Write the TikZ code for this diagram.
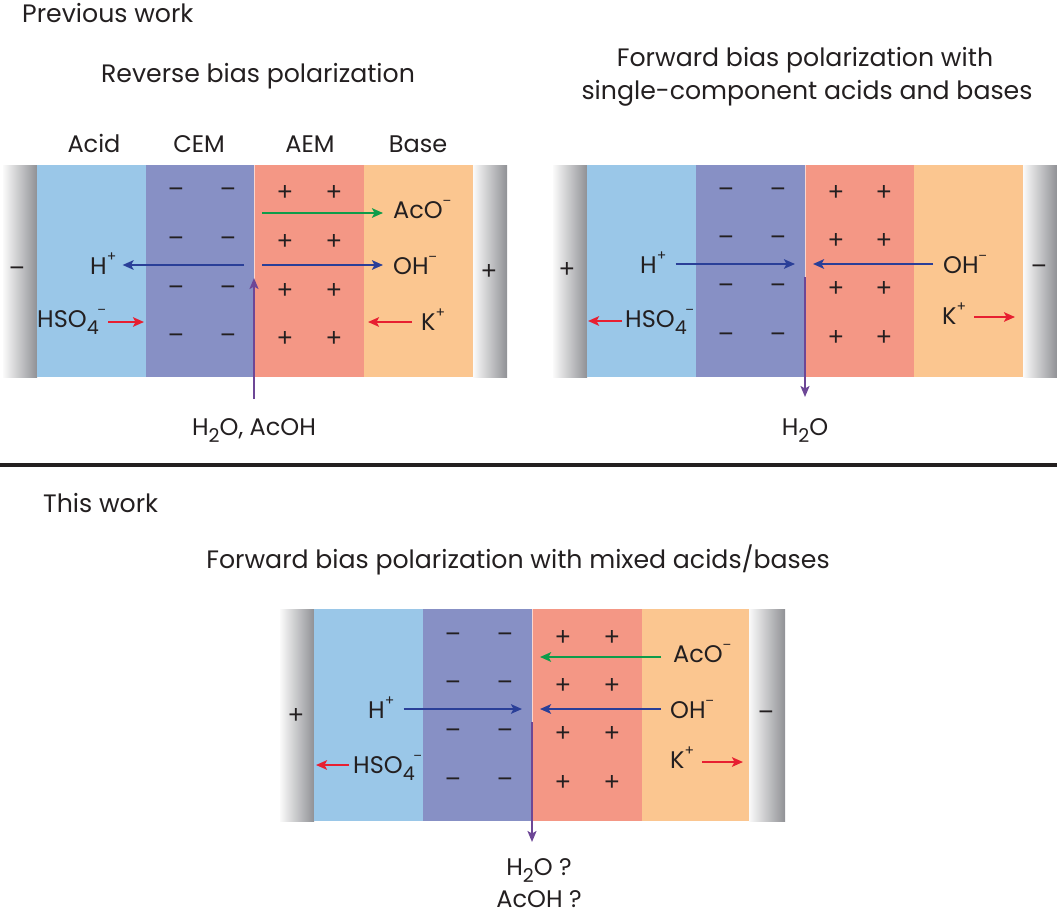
\documentclass[tikz,border=0pt]{standalone}
\usepackage{fontspec}
\setmainfont{Poppins}
\newfontfamily\symfont{Liberation Sans}
\usetikzlibrary{arrows.meta}
\definecolor{acidc}{HTML}{9AC7E8}
\definecolor{cemc}{HTML}{8790C5}
\definecolor{aemc}{HTML}{F49785}
\definecolor{basec}{HTML}{FBC690}
\definecolor{elecd}{HTML}{909195}
\definecolor{elecm}{HTML}{D2D3D5}
\definecolor{elecl}{HTML}{FAFAFA}
\definecolor{arblue}{HTML}{2A3F98}
\definecolor{argreen}{HTML}{0E9C4A}
\definecolor{arred}{HTML}{E71F31}
\definecolor{arpurple}{HTML}{6D4796}
\definecolor{txt}{HTML}{231F20}
\newcommand{\mns}{{\symfont −}}
\newcommand{\sbx}[1]{\raisebox{-7pt}{\fontsize{19}{19}\selectfont #1}}
\newcommand{\spx}[1]{\raisebox{12.5pt}{\fontsize{14}{14}\selectfont #1}}
\begin{document}
\begin{tikzpicture}[x=1pt,y=-1pt,
  lbl/.style={font=\fontsize{24}{28}\selectfont, text=txt, inner sep=0pt},
  ttl/.style={font=\fontsize{25.2}{33}\selectfont, text=txt, inner sep=0pt},
  sgn/.style={font=\symfont\fontsize{26}{28}\selectfont, text=txt, inner sep=0pt},
  elec/.style={left color=elecl, middle color=elecm, right color=elecd},
  seam/.style={white, line width=0.8pt, opacity=0.6},
  arr/.style={line width=2.2pt, -{Stealth[length=11pt,width=9.5pt,inset=2.5pt]}},
  parr/.style={line width=2pt, arpurple, -{Stealth[length=11pt,width=9pt,inset=2.5pt]}},
]
\useasboundingbox (0,0) rectangle (1057,915);

% ---------- headings ----------
\node[ttl, anchor=base west] (prev) at (22,23) {Previous work};
\node[ttl, anchor=base] (t1) at (258,83) {Reverse bias polarization};
\node[ttl, anchor=base] (t2a) at (805,67) {Forward bias polarization with};
\node[ttl, anchor=base] (t2b) at (807,100) {single-component acids and bases};
\draw[txt, line width=3.2pt] (0,465) -- (1057,465);
\node[ttl, anchor=base west] (this) at (43,512) {This work};
\node[ttl, anchor=base] (t3) at (518,568) {Forward bias polarization with mixed acids/bases};

% ---------- panel A: reverse bias ----------
\fill[elec] (3,165) rectangle (37,377);
\fill[acidc] (37,165) rectangle (146,377);
\fill[cemc] (146,165) rectangle (254,377);
\fill[aemc] (254,165) rectangle (364,377);
\fill[basec] (364,165) rectangle (473,377);
\fill[elec] (473,165) rectangle (507,377);
\draw[seam] (254,165) -- (254,377);
\node[lbl, anchor=base] (a-acid) at (94,153) {Acid};
\node[lbl, anchor=base] (a-cem) at (199,153) {CEM};
\node[lbl, anchor=base] (a-aem) at (310,153) {AEM};
\node[lbl, anchor=base] (a-base) at (418,153) {Base};
\foreach \y [count=\i] in {193,242,291,339}{
  \node[sgn] (a-m\i l) at (176,\y) {−};
  \node[sgn] (a-m\i r) at (228,\y) {−};
  \node[sgn] (a-p\i l) at (285,\y) {+};
  \node[sgn] (a-p\i r) at (334,\y) {+};
}
\node[sgn] (a-eneg) at (17,272) {−};
\node[sgn] (a-epos) at (489,272) {+};
\node[lbl, anchor=base west] (a-aco) at (393,218) {AcO\spx{\mns}};
\node[lbl, anchor=base west] (a-h) at (90,274) {H\spx{+}};
\node[lbl, anchor=base west] (a-oh) at (393,274) {OH\spx{\mns}};
\node[lbl, anchor=base west] (a-hso) at (37,327) {HSO\sbx{4}\kern-1pt\spx{\mns}};
\node[lbl, anchor=base west] (a-k) at (421,330) {K\spx{+}};
\node[lbl, anchor=base] (a-water) at (254,435) {H\sbx{2}O, AcOH};
\coordinate (a-c1) at (262,213);
\coordinate (a-c2) at (244,265);
\coordinate (a-c3) at (262,265);
\coordinate (a-c4) at (254,278);
\coordinate (a-c5) at (144,322);
\coordinate (a-c6) at (368,322);
\coordinate (a-c7) at (254,399);
\draw[arr, argreen] (a-c1) -- ([xshift=-10pt]a-aco.west |- a-c1);
\draw[arr, arblue] (a-c2) -- ([xshift=6pt]a-h.east |- a-c2);
\draw[arr, arblue] (a-c3) -- ([xshift=-10pt]a-oh.west |- a-c3);
\draw[parr] (a-c7) -- (a-c4);
\draw[arr, arred] ([xshift=2pt]a-hso.east |- a-c5) -- (a-c5);
\draw[arr, arred] ([xshift=-9pt]a-k.west |- a-c6) -- (a-c6);

% ---------- panel B: forward bias, single ----------
\fill[elec] (553,165) rectangle (587,377);
\fill[acidc] (587,165) rectangle (696,377);
\fill[cemc] (696,165) rectangle (805,377);
\fill[aemc] (805,165) rectangle (914,377);
\fill[basec] (914,165) rectangle (1023,377);
\fill[elec] (1023,165) rectangle (1057,377);
\draw[seam] (805,165) -- (805,377);
\foreach \y [count=\i] in {193,241,289,338}{
  \node[sgn] (b-m\i l) at (726,\y) {−};
  \node[sgn] (b-m\i r) at (778,\y) {−};
  \node[sgn] (b-p\i l) at (836,\y) {+};
  \node[sgn] (b-p\i r) at (884,\y) {+};
}
\node[sgn] (b-epos) at (567,270) {+};
\node[sgn] (b-eneg) at (1039,270) {−};
\node[lbl, anchor=base west] (b-h) at (640,273) {H\spx{+}};
\node[lbl, anchor=base west] (b-oh) at (943,273) {OH\spx{\mns}};
\node[lbl, anchor=base west] (b-hso) at (625,327) {HSO\sbx{4}\kern-1pt\spx{\mns}};
\node[lbl, anchor=base west] (b-k) at (942,324) {K\spx{+}};
\node[lbl, anchor=base] (b-water) at (805,435) {H\sbx{2}O};
\coordinate (b-c2) at (795,264);
\coordinate (b-c3) at (813,264);
\coordinate (b-c4) at (805,277);
\coordinate (b-c5) at (588,321);
\coordinate (b-c6) at (1015,317);
\coordinate (b-c7) at (805,397);
\draw[arr, arblue] ([xshift=9pt]b-h.east |- b-c2) -- (b-c2);
\draw[arr, arblue] ([xshift=-10pt]b-oh.west |- b-c3) -- (b-c3);
\draw[parr] (b-c4) -- (b-c7);
\draw[arr, arred] ([xshift=-3pt]b-hso.west |- b-c5) -- (b-c5);
\draw[arr, arred] ([xshift=8pt]b-k.east |- b-c6) -- (b-c6);

% ---------- panel C: forward bias, mixed ----------
\fill[elec] (280,609) rectangle (314,821);
\fill[acidc] (314,609) rectangle (423,821);
\fill[cemc] (423,609) rectangle (532,821);
\fill[aemc] (532,609) rectangle (642,821);
\fill[basec] (642,609) rectangle (749,821);
\fill[elec] (749,609) rectangle (785,821);
\draw[seam] (532,609) -- (532,821);
\foreach \y [count=\i] in {638,686,734,783}{
  \node[sgn] (c-m\i l) at (453,\y) {−};
  \node[sgn] (c-m\i r) at (505,\y) {−};
  \node[sgn] (c-p\i l) at (563,\y) {+};
  \node[sgn] (c-p\i r) at (612,\y) {+};
}
\node[sgn] (c-epos) at (296,716) {+};
\node[sgn] (c-eneg) at (766,716) {−};
\node[lbl, anchor=base west] (c-aco) at (673,662) {AcO\spx{\mns}};
\node[lbl, anchor=base west] (c-h) at (368,718) {H\spx{+}};
\node[lbl, anchor=base west] (c-oh) at (670,718) {OH\spx{\mns}};
\node[lbl, anchor=base west] (c-hso) at (353,773) {HSO\sbx{4}\kern-1pt\spx{\mns}};
\node[lbl, anchor=base west] (c-k) at (670,768) {K\spx{+}};
\node[lbl, anchor=base] (c-water) at (539,875) {H\sbx{2}O ?};
\node[lbl, anchor=base] (c-acoh) at (539,907) {AcOH ?};
\coordinate (c-c1) at (540,657);
\coordinate (c-c2) at (522,709);
\coordinate (c-c3) at (540,709);
\coordinate (c-c4) at (532,722);
\coordinate (c-c5) at (316,765);
\coordinate (c-c6) at (743,762);
\coordinate (c-c7) at (532,842);
\draw[arr, argreen] ([xshift=-12pt]c-aco.west |- c-c1) -- (c-c1);
\draw[arr, arblue] ([xshift=9pt]c-h.east |- c-c2) -- (c-c2);
\draw[arr, arblue] ([xshift=-9pt]c-oh.west |- c-c3) -- (c-c3);
\draw[parr] (c-c4) -- (c-c7);
\draw[arr, arred] ([xshift=-4pt]c-hso.west |- c-c5) -- (c-c5);
\draw[arr, arred] ([xshift=8pt]c-k.east |- c-c6) -- (c-c6);
\end{tikzpicture}
\end{document}
